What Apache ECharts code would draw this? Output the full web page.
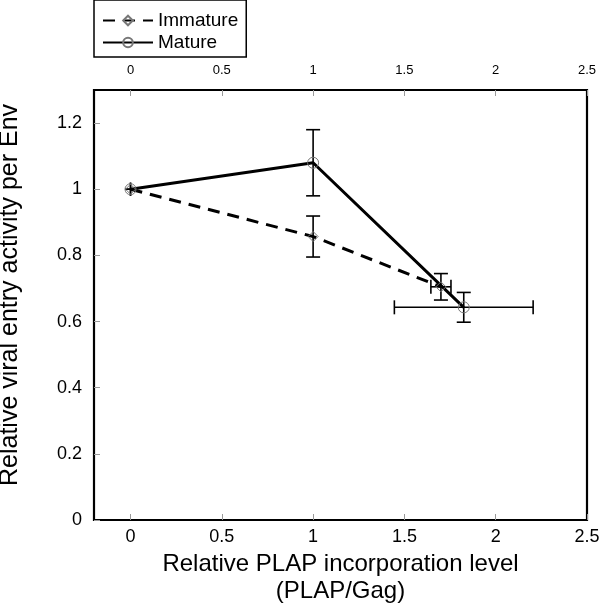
<!DOCTYPE html>
<html>
<head>
<meta charset="utf-8">
<script src="https://cdn.jsdelivr.net/npm/echarts@6/dist/echarts.min.js"></script>
<style>html,body{margin:0;padding:0;background:#fff;}#c{width:600px;height:605px;}</style>
</head>
<body>
<div id="c"></div>
<script>
const xTicks = [0, 0.5, 1, 1.5, 2, 2.5];
const yTicks = [0, 0.2, 0.4, 0.6, 0.8, 1, 1.2];

const immX = [0, 1, 1.7];
const immY = [1, 0.857, 0.705];
const immYErr = [0.02, 0.062, 0.04];
const immXErr = [0.03, 0, 0.055];

const matX = [0, 1, 1.825];
const matY = [1, 1.08, 0.643];
const matYErr = [0.02, 0.1, 0.045];
const matXErr = [0.03, 0, 0.38];

const FONT = 'Liberation Sans, Arial, sans-serif';

function pairs(xs, ys) { return xs.map((x, i) => [x, ys[i]]); }
function errData(xs, ys, xe, ye) { return xs.map((x, i) => [x, ys[i], xe[i], ye[i]]); }

function errRender(params, api) {
  const x = api.value(0), y = api.value(1), xe = api.value(2), ye = api.value(3);
  const children = [];
  const st = { stroke: '#000', lineWidth: 1.6 };
  const cap = 7;
  if (ye > 0) {
    const t = api.coord([x, y + ye]), b = api.coord([x, y - ye]);
    children.push({ type: 'line', shape: { x1: t[0], y1: t[1], x2: b[0], y2: b[1] }, style: st });
    if (ye > 0.03) {
      children.push({ type: 'line', shape: { x1: t[0] - cap, y1: t[1], x2: t[0] + cap, y2: t[1] }, style: st });
      children.push({ type: 'line', shape: { x1: b[0] - cap, y1: b[1], x2: b[0] + cap, y2: b[1] }, style: st });
    }
  }
  if (xe > 0) {
    const l = api.coord([x - xe, y]), r = api.coord([x + xe, y]);
    children.push({ type: 'line', shape: { x1: l[0], y1: l[1], x2: r[0], y2: r[1] }, style: st });
    if (xe > 0.04) {
      children.push({ type: 'line', shape: { x1: l[0], y1: l[1] - cap, x2: l[0], y2: l[1] + cap }, style: st });
      children.push({ type: 'line', shape: { x1: r[0], y1: r[1] - cap, x2: r[0], y2: r[1] + cap }, style: st });
    }
  }
  return { type: 'group', children };
}

const chart = echarts.init(document.getElementById('c'));
chart.setOption({
  animation: false,
  backgroundColor: '#fff',
  legend: {
    orient: 'vertical',
    left: 94, top: 0,
    data: ['Immature', 'Mature'],
    borderColor: '#000', borderWidth: 1.5,
    padding: [11, 8, 5, 8],
    itemWidth: 50, itemHeight: 12, itemGap: 3,
    textStyle: { fontFamily: FONT, fontSize: 19, color: '#000' }
  },
  grid: { left: 94, right: 13, top: 90, bottom: 85, outerBoundsMode: 'none', containLabel: false, show: true, borderColor: '#000', borderWidth: 2.2, backgroundColor: 'transparent' },
  xAxis: [{
    type: 'value', min: -0.2, max: 2.5, position: 'bottom',
    name: 'Relative PLAP incorporation level\n(PLAP/Gag)',
    nameLocation: 'middle', nameGap: 30,
    nameTextStyle: { fontFamily: FONT, fontSize: 24, color: '#000', lineHeight: 27 },
    axisLine: { show: false, onZero: false },
    splitLine: { show: false },
    axisTick: { show: true, inside: true, length: 6, customValues: xTicks, lineStyle: { color: '#999' } },
    axisLabel: { customValues: xTicks, fontFamily: FONT, fontSize: 18, color: '#000', margin: 8, formatter: v => String(v) }
  }, {
    type: 'value', min: -0.2, max: 2.5, position: 'top',
    axisLine: { show: false, onZero: false },
    splitLine: { show: false },
    axisTick: { show: true, inside: true, length: 6, customValues: xTicks, lineStyle: { color: '#999' } },
    axisLabel: { customValues: xTicks, fontFamily: FONT, fontSize: 13, color: '#000', margin: 13, formatter: v => String(v) }
  }],
  yAxis: {
    type: 'value', min: 0, max: 1.3,
    name: 'Relative viral entry activity per Env',
    nameLocation: 'middle', nameGap: 71,
    nameTextStyle: { fontFamily: FONT, fontSize: 25, color: '#000', padding: [0, 0, 0, 20] },
    axisLine: { show: false, onZero: false },
    splitLine: { show: false },
    axisTick: { show: true, inside: true, length: 6, customValues: yTicks, lineStyle: { color: '#999' } },
    axisLabel: { customValues: yTicks, fontFamily: FONT, fontSize: 18, color: '#000', margin: 12, formatter: v => String(v) }
  },
  series: [
    { type: 'custom', name: 'errImm', renderItem: errRender, data: errData(immX, immY, immXErr, immYErr), encode: { x: 0, y: 1 }, z: 1, silent: true },
    { type: 'custom', name: 'errMat', renderItem: errRender, data: errData(matX, matY, matXErr, matYErr), encode: { x: 0, y: 1 }, z: 1, silent: true },
    {
      type: 'line', name: 'Immature', data: pairs(immX, immY), z: 3,
      symbol: 'diamond', symbolSize: 10, showAllSymbol: true,
      itemStyle: { color: 'rgba(255,255,255,0)', borderColor: '#777', borderWidth: 1 },
      lineStyle: { color: '#000', width: 3, type: [12, 8] }
    },
    {
      type: 'line', name: 'Mature', data: pairs(matX, matY), z: 3,
      symbol: 'circle', symbolSize: 11, showAllSymbol: true,
      itemStyle: { color: 'rgba(255,255,255,0)', borderColor: '#777', borderWidth: 1 },
      lineStyle: { color: '#000', width: 3 }
    }
  ]
});
</script>
</body>
</html>
